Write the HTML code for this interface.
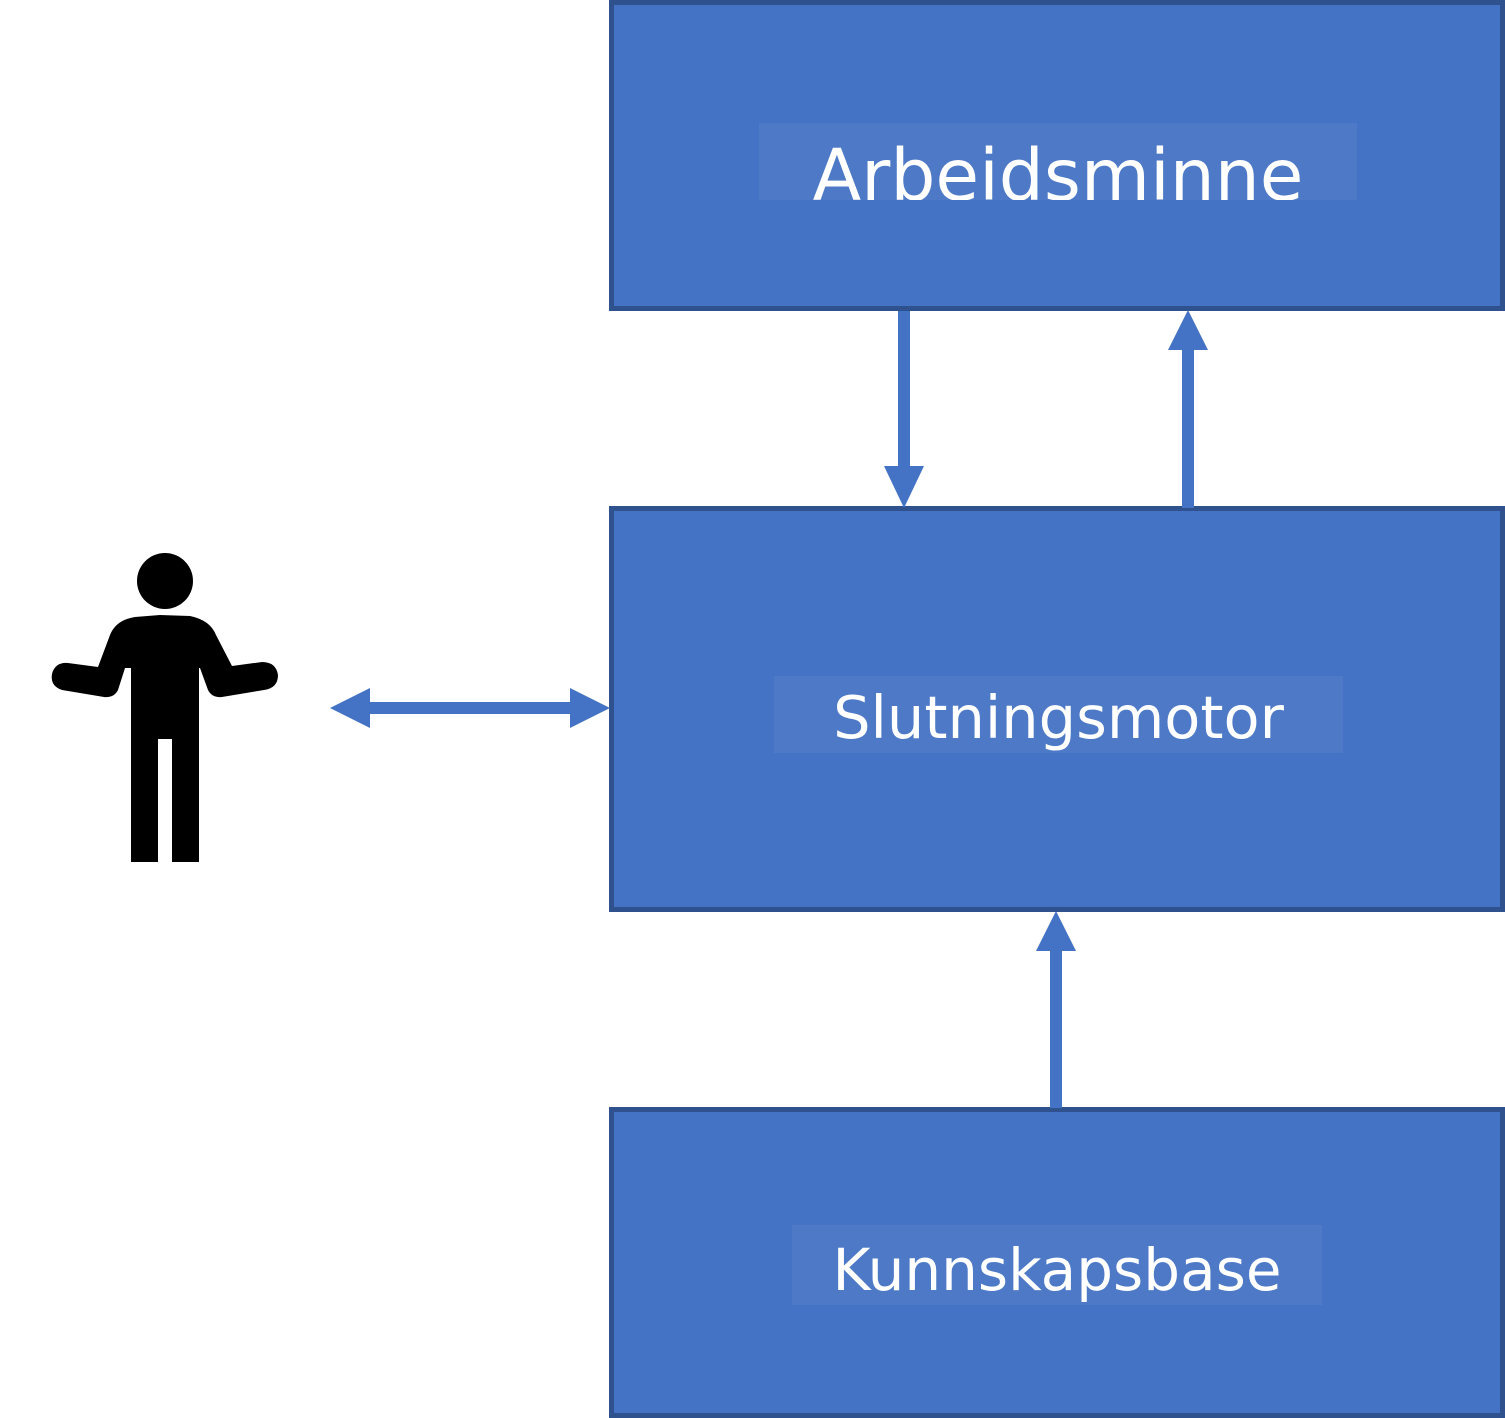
<!DOCTYPE html>
<html><head><style>
body{margin:0;width:1505px;height:1418px;background:#fff;position:relative;overflow:hidden;font-family:"DejaVu Sans","Liberation Sans",sans-serif}
.box{position:absolute;left:609px;width:886px;background:#4472C4;border:5px solid #2F528F}
.lab{position:absolute;background:#4D79C7;color:#fff;overflow:hidden;text-align:center;white-space:nowrap}
</style></head><body>
<div class="box" style="top:0;height:301px"></div>
<div class="box" style="top:506px;height:396px"></div>
<div class="box" style="top:1107px;height:301px"></div>
<div class="lab" style="left:759px;top:123px;width:598px;height:77px;font-size:71px;line-height:105px">Arbeidsminne</div>
<div class="lab" style="left:774px;top:676px;width:569px;height:77px;font-size:59px;line-height:83px">Slutningsmotor</div>
<div class="lab" style="left:792px;top:1225px;width:530px;height:80px;font-size:58px;line-height:90px">Kunnskapsbase</div>
<svg width="1505" height="1418" style="position:absolute;left:0;top:0">
<g fill="#4472C4">
<rect x="898" y="311" width="12" height="160"/><polygon points="884,466 924,466 904,508"/>
<rect x="1182" y="345" width="12" height="163"/><polygon points="1168,350 1208,350 1188,310"/>
<rect x="1050" y="945" width="12" height="163"/><polygon points="1036,951 1076,951 1056,911"/>
<rect x="365" y="702" width="210" height="12"/><polygon points="370,688 370,728 330,708"/><polygon points="570,688 570,728 610,708"/>
</g>
<g fill="#000">
<circle cx="165" cy="581" r="28"/>
<path d="M131,862 L131,668 L125,668 L118,690 Q114,698 104,697 L62,690 Q50,686 52,674 Q55,662 68,663 L98,667 L110,635 Q116,620 135,617 L160,615 L190,616 Q210,620 216,635 L232,666 L262,662 Q276,662 278,675 Q278,688 264,690 L222,697 Q212,698 208,690 L200,668 L199,668 L199,862 L172,862 L172,739 L158,739 L158,862 Z"/>
</g>
</svg>
</body></html>
